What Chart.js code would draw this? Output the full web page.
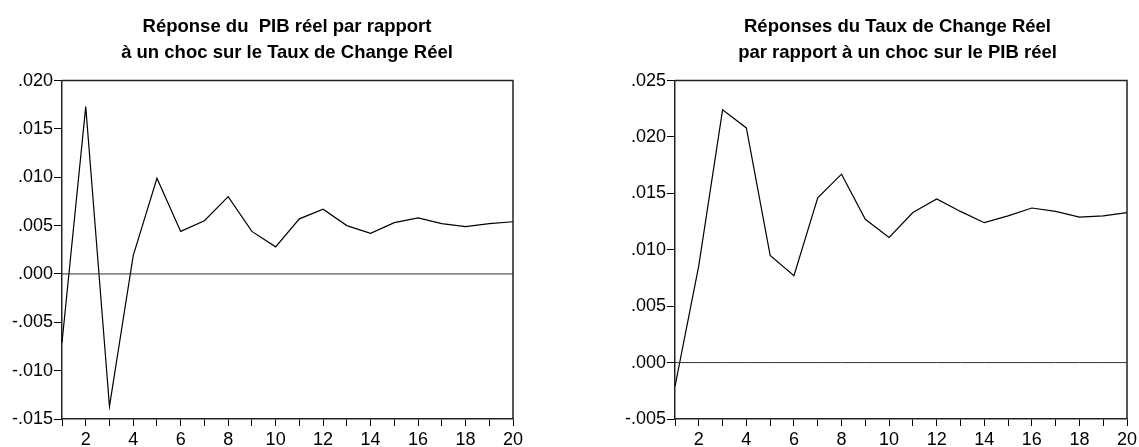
<!DOCTYPE html>
<html>
<head>
<meta charset="utf-8">
<script src="https://cdn.jsdelivr.net/npm/chart.js@4/dist/chart.umd.min.js"></script>
<style>
    html, body { margin: 0; padding: 0; background: #fff; overflow: hidden; width: 1139px; height: 447px; }
    .box { position: absolute; top: 0; height: 447px; }
</style>
</head>
<body>
<div class="box" style="left:0px;width:574px"><canvas id="pib"></canvas></div>
<div class="box" style="left:613px;width:569px"><canvas id="tcr"></canvas></div>
<script>
const periods = [1, 2, 3, 4, 5, 6, 7, 8, 9, 10, 11, 12, 13, 14, 15, 16, 17, 18, 19, 20];

// réponse du PIB réel à un choc sur le TCR
const pibResponse = [-0.0071, 0.0173, -0.0137, 0.0019, 0.0099, 0.0044, 0.0055, 0.0080, 0.0044, 0.0028,
    0.0057, 0.0067, 0.0050, 0.0042, 0.0053, 0.0058, 0.0052, 0.0049, 0.0052, 0.0054];

// réponse du TCR à un choc sur le PIB réel
const tcrResponse = [-0.0021, 0.0086, 0.0224, 0.0208, 0.0095, 0.0077, 0.0146, 0.0167, 0.0127, 0.0111,
    0.0133, 0.0145, 0.0134, 0.0124, 0.0130, 0.0137, 0.0134, 0.0129, 0.0130, 0.0133];

const pibTitle = ['Réponse du  PIB réel par rapport', 'à un choc sur le Taux de Change Réel'];
const tcrTitle = ['Réponses du Taux de Change Réel', 'par rapport à un choc sur le PIB réel'];

const fontFamily = '"Liberation Sans", Arial, sans-serif';

// top and right sides of the frame
const framePlugin = {
    id: 'frame',
    afterDraw(chart) {
        const a = chart.chartArea;
        const ctx = chart.ctx;
        ctx.save();
        ctx.strokeStyle = '#222';
        ctx.lineWidth = 1.5;
        ctx.beginPath();
        ctx.moveTo(a.left, a.top);
        ctx.lineTo(a.right, a.top);
        ctx.lineTo(a.right, a.bottom);
        ctx.stroke();
        ctx.restore();
    }
};

function formatTick(v) {
    let s = Math.abs(v).toFixed(3).replace(/^0/, '');
    return (v < -1e-9 ? '-' : '') + s;
}

function drawIrf(canvasId, title, values, yMin, yMax, rightPad) {
    const zero = periods.map(() => 0);
    return new Chart(document.getElementById(canvasId), {
        type: 'line',
        data: {
            labels: periods,
            datasets: [{
                data: zero,
                borderColor: '#333',
                borderWidth: 1,
                pointRadius: 0
            }, {
                data: values,
                borderColor: '#000',
                borderWidth: 1.2,
                pointRadius: 0,
                tension: 0,
                fill: false
            }]
        },
        options: {
            responsive: true,
            maintainAspectRatio: false,
            animation: false,
            events: [],
            layout: { padding: 0 },
            plugins: {
                legend: { display: false },
                tooltip: { enabled: false },
                title: {
                    display: true,
                    text: title,
                    color: '#000',
                    font: { family: fontFamily, size: 18.5, weight: 'bold', lineHeight: 1.42 },
                    padding: { top: 14, bottom: 14 }
                }
            },
            scales: {
                x: {
                    offset: false,
                    grid: { drawOnChartArea: false, drawTicks: true, tickLength: 7, color: '#000' },
                    border: { display: true, color: '#222', width: 1.5 },
                    ticks: {
                        autoSkip: false,
                        maxRotation: 0,
                        padding: 3,
                        color: '#000',
                        font: { family: fontFamily, size: 18 },
                        callback: function (val, i) {
                            return periods[i] % 2 === 0 ? String(periods[i]) : '';
                        }
                    },
                    afterFit: function (scale) { scale.height = 28; }
                },
                y: {
                    min: yMin,
                    max: yMax,
                    grid: { drawOnChartArea: false, drawTicks: true, tickLength: 8, color: '#000' },
                    border: { display: true, color: '#222', width: 1.5 },
                    ticks: {
                        stepSize: 0.005,
                        padding: 1,
                        color: '#000',
                        font: { family: fontFamily, size: 18 },
                        callback: formatTick
                    },
                    afterFit: function (scale) { scale.width = 62; }
                },
                // empty right-hand axis, only keeps room so the title stays centred on the canvas
                spacer: {
                    position: 'right',
                    min: yMin,
                    max: yMax,
                    grid: { display: false },
                    border: { display: false },
                    ticks: { display: false },
                    afterFit: function (scale) { scale.width = rightPad; }
                }
            }
        },
        plugins: [framePlugin]
    });
}

drawIrf('pib', pibTitle, pibResponse, -0.015, 0.020, 61);
drawIrf('tcr', tcrTitle, tcrResponse, -0.005, 0.025, 55);
</script>
</body>
</html>
